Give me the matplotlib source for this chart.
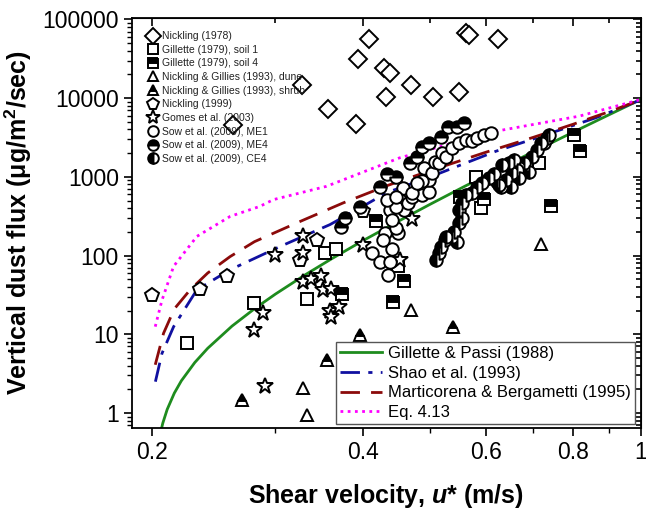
import matplotlib
matplotlib.use('Agg')
import matplotlib.pyplot as plt
from matplotlib.lines import Line2D
from matplotlib.ticker import FixedLocator, NullFormatter, LogLocator, FixedFormatter

plt.rcParams['font.family'] = ['Liberation Sans', 'DejaVu Sans']
plt.rcParams['mathtext.fontset'] = 'custom'
plt.rcParams['mathtext.it'] = 'Liberation Sans:italic:bold'
plt.rcParams['mathtext.rm'] = 'Liberation Sans:bold'
plt.rcParams['mathtext.bf'] = 'Liberation Sans:bold'

# ---- measured data (u* in m/s, flux in ug/m2/s) ----
n78_u = [0.409, 0.394, 0.429, 0.438, 0.469, 0.432, 0.504, 0.549, 0.562, 0.568, 0.624, 0.327, 0.357, 0.391, 0.261]
n78_f = [55700, 31000, 24300, 20600, 14500, 10400, 10400, 11900, 67700, 62600, 55700, 14500, 7310, 4750, 4610]

g79s1_u = [0.224, 0.2796, 0.333, 0.3535, 0.3668, 0.449, 0.5805, 0.5905, 0.714]
g79s1_f = [7.8, 25.3, 27.8, 108, 120, 72.7, 1006, 402, 1503]

g79s4_u = [0.373, 0.418, 0.4417, 0.459, 0.5515, 0.596, 0.743, 0.802, 0.818]
g79s4_f = [32.9, 272, 26, 47.8, 547, 523, 430, 3394, 2110]

ngdune_u = [0.3286, 0.3324, 0.469, 0.7205]
ngdune_f = [2.06, 0.94, 20.1, 141]

ngshrub_u = [0.2685, 0.356, 0.396, 0.539]
ngshrub_f = [1.46, 4.7, 9.8, 12.5]

n99_u = [0.2, 0.2336, 0.256, 0.325, 0.344, 0.401]
n99_f = [31.7, 37.5, 55, 87, 159, 366]

gomes_u = [0.2996, 0.2883, 0.2796, 0.29, 0.3286, 0.3286, 0.3286, 0.3377, 0.3484,
           0.3508, 0.36, 0.3594, 0.3703, 0.36, 0.4003, 0.471, 0.4527]
gomes_f = [102, 18.5, 11.4, 2.2, 175, 108, 45.7, 50.7, 54.2,
           36.7, 37.8, 19.9, 22, 16.4, 135, 290, 88.5]

me1_u = [0.413, 0.423, 0.434, 0.437, 0.441, 0.430, 0.449, 0.427, 0.446, 0.437,
         0.441, 0.452, 0.459, 0.447, 0.464, 0.456, 0.471, 0.486, 0.498, 0.498,
         0.487, 0.490, 0.503, 0.507, 0.515, 0.520, 0.527, 0.536, 0.550, 0.563,
         0.574, 0.583, 0.597, 0.611, 0.470, 0.479, 0.433, 0.447]
me1_f = [109, 83.5, 57, 83.5, 122, 195, 195, 159, 226, 383,
         285, 513, 383, 418, 470, 728, 560, 595, 648, 921,
         894, 1310, 1131, 1560, 1515, 2030, 1806, 2350, 2720, 2970,
         2890, 3150, 3440, 3550, 629, 844, 513, 560]

me4_u = [0.372, 0.377, 0.397, 0.423, 0.433, 0.447, 0.467, 0.478, 0.487, 0.498,
         0.518, 0.530, 0.546, 0.559]
me4_f = [232, 302, 418, 750, 1070, 1006, 1515, 1806, 2420, 2720,
         3250, 4230, 4230, 4760]

ce4_u = [0.510, 0.515, 0.518, 0.524, 0.527, 0.536, 0.541, 0.545, 0.550, 0.550,
         0.554, 0.554, 0.563, 0.574, 0.583, 0.593, 0.607, 0.623, 0.631, 0.642,
         0.655, 0.670, 0.685, 0.699, 0.711, 0.727, 0.734, 0.633, 0.648, 0.659,
         0.627, 0.652, 0.665, 0.681, 0.720, 0.739, 0.617, 0.670, 0.692]
ce4_f = [88.5, 109, 130, 159, 174, 174, 201, 150, 261, 383,
         302, 470, 595, 629, 750, 844, 977, 869, 750, 921,
         1131, 1310, 1432, 1806, 2220, 2720, 3150, 1432, 1515, 1654,
         798, 750, 1235, 1515, 2720, 3440, 1070, 977, 1165]

# ---- model curves ----
gp_u = [0.2055, 0.207, 0.21, 0.215, 0.22, 0.23, 0.24, 0.26, 0.28, 0.30, 0.33,
        0.36, 0.40, 0.45, 0.50, 0.56, 0.63, 0.70, 0.80, 0.90, 1.0]
gp_f = [0.57, 0.745, 1.11, 1.79, 2.56, 4.38, 6.64, 12.7, 21.1, 32.4, 56.1,
        89.6, 154, 273, 450, 759, 1290, 2058, 3686, 6124, 9600]

shao_u = [0.202, 0.2064, 0.2145, 0.2316, 0.2584, 0.3045, 0.359, 0.40, 0.433,
          0.50, 0.6205, 0.70, 0.862, 1.0]
shao_f = [2.5, 5.7, 12.5, 36.7, 66, 130, 247, 421, 630,
          1000, 2113, 3000, 5614, 9500]

mb_u = [0.2019, 0.2075, 0.215, 0.2265, 0.24, 0.2584, 0.28, 0.3216, 0.375, 0.433,
        0.50, 0.60, 0.70, 0.80, 0.90, 1.0]
mb_f = [4.1, 10.3, 21, 36.7, 60, 97, 150, 259, 466, 770,
        1200, 2050, 3150, 4650, 6700, 9500]

eq_u = [0.2019, 0.2064, 0.2145, 0.2316, 0.2584, 0.285, 0.298, 0.355, 0.4516,
        0.6205, 0.816, 1.0]
eq_f = [12.5, 27, 73, 175, 314, 421, 513, 757, 1740,
        3793, 5888, 9600]

fig = plt.figure(figsize=(6.46, 5.14), dpi=100)
ax = fig.add_axes([0.2043, 0.1673, 0.7877, 0.7977])

mk = dict(ls='none', mec='black', mew=1.4)
series = [
    (n78_u, n78_f, dict(marker='D', ms=9, mfc='white'), 'Nickling (1978)'),
    (g79s1_u, g79s1_f, dict(marker='s', ms=8, mfc='white'), 'Gillette (1979), soil 1'),
    (g79s4_u, g79s4_f, dict(marker='s', ms=8, mfc='black', mfcalt='white', fillstyle='top'), 'Gillette (1979), soil 4'),
    (ngdune_u, ngdune_f, dict(marker='^', ms=9, mfc='white'), 'Nickling & Gillies (1993), dune'),
    (ngshrub_u, ngshrub_f, dict(marker='^', ms=9, mfc='black', mfcalt='white', fillstyle='top'), 'Nickling & Gillies (1993), shrub'),
    (n99_u, n99_f, dict(marker='p', ms=10, mfc='white'), 'Nickling (1999)'),
    (gomes_u, gomes_f, dict(marker='*', ms=12, mfc='white'), 'Gomes et al. (2003)'),
    (me1_u, me1_f, dict(marker='o', ms=9, mfc='white'), 'Sow et al. (2009), ME1'),
    (me4_u, me4_f, dict(marker='o', ms=9, mfc='black', mfcalt='white', fillstyle='top'), 'Sow et al. (2009), ME4'),
    (ce4_u, ce4_f, dict(marker='o', ms=9, mfc='black', mfcalt='white', fillstyle='left'), 'Sow et al. (2009), CE4'),
]

handles = []
for u, f, st, lab in series:
    ax.plot(u, f, **mk, **st, zorder=3)
    handles.append(Line2D([], [], **mk, **st, label=lab))

l1, = ax.plot(gp_u, gp_f, color='#1e8c1e', lw=2.0, zorder=2)
l2, = ax.plot(shao_u, shao_f, color='#1010a0', lw=2.0, ls=(0, (7, 3, 1.5, 3)), zorder=2)
l3, = ax.plot(mb_u, mb_f, color='#8b0a0a', lw=2.0, ls=(0, (7, 4)), zorder=2)
l4, = ax.plot(eq_u, eq_f, color='#ff00ff', lw=2.0, ls=(0, (1, 1.6)), zorder=2)

ax.set_xscale('log')
ax.set_yscale('log')
ax.set_xlim(0.187, 1.0)
ax.set_ylim(0.645, 1.04e5)

ax.xaxis.set_major_locator(FixedLocator([0.2, 0.4, 0.6, 0.8, 1.0]))
ax.xaxis.set_major_formatter(FixedFormatter(['0.2', '0.4', '0.6', '0.8', '1']))
ax.xaxis.set_minor_locator(FixedLocator([0.3, 0.5, 0.7, 0.9]))
ax.xaxis.set_minor_formatter(NullFormatter())
ax.yaxis.set_major_locator(FixedLocator([1, 10, 100, 1000, 10000, 100000]))
ax.yaxis.set_major_formatter(FixedFormatter(['1', '10', '100', '1000', '10000', '100000']))
ax.yaxis.set_minor_locator(LogLocator(base=10, subs=range(2, 10)))
ax.yaxis.set_minor_formatter(NullFormatter())

ax.tick_params(axis='both', which='major', labelsize=16.5, length=6, width=1.2)
ax.tick_params(axis='both', which='minor', length=3.5, width=1.0)
ax.tick_params(axis='x', which='both', direction='out', top=False)
ax.tick_params(axis='y', which='both', direction='out', right=False)
ax2 = ax.secondary_xaxis('top')
ax2.xaxis.set_major_locator(FixedLocator([0.2, 0.4, 0.6, 0.8, 1.0]))
ax2.xaxis.set_minor_locator(FixedLocator([0.3, 0.5, 0.7, 0.9]))
ax2.tick_params(which='both', direction='in', labeltop=False, width=1.2)
ax2.tick_params(which='major', length=6)
ax2.tick_params(which='minor', length=3.5)
ax3 = ax.secondary_yaxis('right')
ax3.yaxis.set_major_locator(FixedLocator([1, 10, 100, 1000, 10000, 100000]))
ax3.yaxis.set_minor_locator(LogLocator(base=10, subs=range(2, 10)))
ax3.tick_params(which='both', direction='in', labelright=False, width=1.2)
ax3.tick_params(which='major', length=6)
ax3.tick_params(which='minor', length=3.5)
for s in ax.spines.values():
    s.set_linewidth(1.3)

ax.set_xlabel('Shear velocity, $u$* (m/s)', fontsize=18, fontweight='bold', labelpad=13)
ax.set_ylabel('Vertical dust flux (μg/m$^{2}$/sec)', fontsize=18, fontweight='bold', labelpad=6)

leg1 = ax.legend(handles=handles, loc='upper left', bbox_to_anchor=(0.02, 0.978),
                 frameon=False, fontsize=7.5, labelspacing=0.35, handletextpad=0.35,
                 handlelength=1.2, borderaxespad=0, markerscale=0.85, labelcolor='#222222')
ax.add_artist(leg1)
ax.legend([l1, l2, l3, l4],
          ['Gillette & Passi (1988)', 'Shao et al. (1993)',
           'Marticorena & Bergametti (1995)', 'Eq. 4.13'],
          loc='lower right', bbox_to_anchor=(0.988, 0.009), fontsize=12,
          fancybox=False, edgecolor='#555555', framealpha=1, labelspacing=0.28,
          handlelength=2.5, handletextpad=0.35, borderaxespad=0, borderpad=0.25)

fig.savefig('out.png', dpi=100)
